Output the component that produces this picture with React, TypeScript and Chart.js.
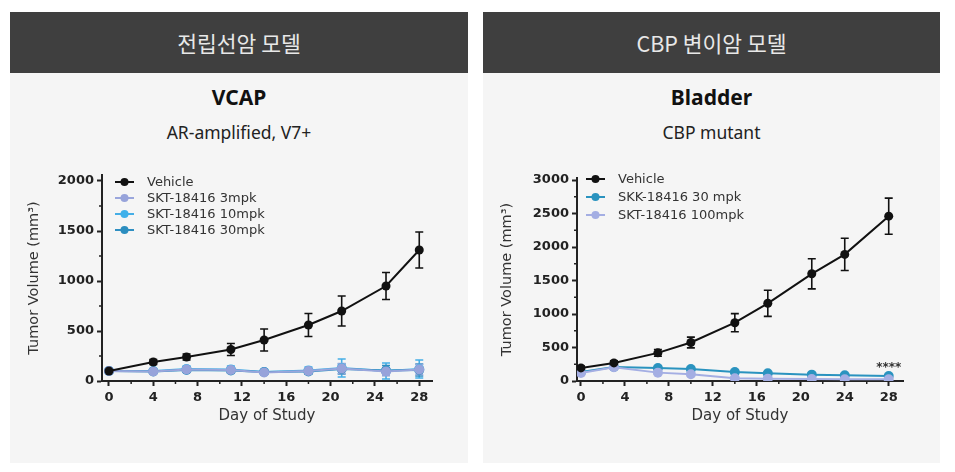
import React, { useEffect, useRef } from "react";
import { Chart, registerables } from "chart.js";
Chart.register(...registerables);

// ---------- Data: VCAP ----------
const vcapDays = [0, 4, 7, 11, 14, 18, 21, 25, 28];
const vcapVehicle = [100, 190, 240, 315, 410, 560, 700, 950, 1310];
const vcapVehicleErr = [10, 25, 30, 60, 110, 115, 150, 135, 180];
const vcap3mpk = [100, 95, 115, 110, 85, 100, 125, 95, 115];
const vcap3mpkErr = [10, 15, 25, 25, 15, 25, 50, 40, 50];
const vcap10mpk = [100, 100, 120, 115, 90, 105, 130, 100, 120];
const vcap10mpkErr = [10, 20, 30, 35, 20, 35, 90, 80, 90];
const vcap30mpk = [100, 95, 110, 105, 90, 95, 120, 105, 110];
const vcap30mpkErr = [10, 15, 20, 25, 15, 25, 50, 50, 60];
const vcapYTicks = [0, 500, 1000, 1500, 2000];
const vcapYMinor = [250, 750, 1250, 1750];

// ---------- Data: Bladder ----------
const bladDays = [0, 3, 7, 10, 14, 17, 21, 24, 28];
const bladVehicle = [195, 270, 420, 575, 870, 1160, 1600, 1890, 2460];
const bladVehicleErr = [30, 30, 50, 80, 135, 195, 225, 240, 270];
const blad30mpk = [135, 210, 195, 180, 135, 115, 95, 85, 75];
const blad30mpkErr = [20, 30, 30, 30, 25, 20, 20, 20, 20];
const blad100mpk = [120, 205, 125, 100, 40, 35, 30, 25, 25];
const blad100mpkErr = [20, 30, 20, 20, 10, 10, 10, 10, 10];
const bladYTicks = [0, 500, 1000, 1500, 2000, 2500, 3000];
const bladYMinor = [250, 750, 1250, 1750, 2250, 2750];
const bladSigDay = 28;
const bladSigValue = 150;
const bladSigText = "****";

const xTicks = [0, 4, 8, 12, 16, 20, 24, 28];
const xMinor = [2, 6, 10, 14, 18, 22, 26];

const AXIS = "#222222";
const TXT = "#333333";
const FONT = "'DejaVu Sans', 'Noto Sans', sans-serif";

type Series = {
  label: string;
  data: number[];
  err: number[];
  color: string;
  pointColor: string;
  radius: number;
  order: number;
};

type ChartCfg = {
  days: number[];
  series: Series[];
  yTicks: number[];
  yMinor: number[];
  yMax: number;
  xMin: number;
  xMax: number;
  padTop: number;
  padRight: number;
  yWidth: number;
  legendDx: number;
  legendDy: number;
  legendGap: number;
  sig?: { day: number; value: number; text: string };
};

function buildChart(canvas: HTMLCanvasElement, cfg: ChartCfg) {
  const errorBars = {
    id: "errorBars",
    beforeDatasetsDraw(chart: any) {
      const ctx = chart.ctx;
      const xs = chart.scales.x;
      const ys = chart.scales.y;
      ctx.save();
      cfg.series
        .map((s, i) => ({ s, i }))
        .sort((a, b) => b.s.order - a.s.order)
        .forEach(({ s }) => {
          ctx.strokeStyle = s.color;
          ctx.lineWidth = 1.6;
          s.data.forEach((v, k) => {
            const e = s.err[k];
            if (!e) return;
            const x = xs.getPixelForValue(cfg.days[k]);
            const y1 = ys.getPixelForValue(v + e);
            const y2 = ys.getPixelForValue(Math.max(0, v - e));
            ctx.beginPath();
            ctx.moveTo(x, y1);
            ctx.lineTo(x, y2);
            ctx.moveTo(x - 4, y1);
            ctx.lineTo(x + 4, y1);
            ctx.moveTo(x - 4, y2);
            ctx.lineTo(x + 4, y2);
            ctx.stroke();
          });
        });
      ctx.restore();
    },
  };

  const extras = {
    id: "extras",
    afterDraw(chart: any) {
      const ctx = chart.ctx;
      const xs = chart.scales.x;
      const ys = chart.scales.y;
      const ca = chart.chartArea;
      ctx.save();
      // minor ticks
      ctx.strokeStyle = AXIS;
      ctx.lineWidth = 1.5;
      cfg.yMinor.forEach((v) => {
        const y = ys.getPixelForValue(v);
        ctx.beginPath();
        ctx.moveTo(ca.left - 3, y);
        ctx.lineTo(ca.left, y);
        ctx.stroke();
      });
      xMinor.forEach((v) => {
        const x = xs.getPixelForValue(v);
        ctx.beginPath();
        ctx.moveTo(x, ca.bottom);
        ctx.lineTo(x, ca.bottom + 3);
        ctx.stroke();
      });
      // legend
      ctx.font = `13px ${FONT}`;
      ctx.textBaseline = "middle";
      ctx.textAlign = "left";
      cfg.series.forEach((s, i) => {
        const y = ca.top + cfg.legendDy + i * cfg.legendGap;
        const x0 = ca.left + cfg.legendDx;
        ctx.strokeStyle = s.color;
        ctx.lineWidth = 2;
        ctx.beginPath();
        ctx.moveTo(x0, y);
        ctx.lineTo(x0 + 19, y);
        ctx.stroke();
        ctx.fillStyle = s.pointColor;
        ctx.beginPath();
        ctx.arc(x0 + 9.5, y, 4, 0, Math.PI * 2);
        ctx.fill();
        ctx.fillStyle = TXT;
        ctx.fillText(s.label, x0 + 32, y + 0.5);
      });
      if (cfg.sig) {
        ctx.font = `bold 12px ${FONT}`;
        ctx.fillStyle = TXT;
        ctx.textAlign = "center";
        ctx.textBaseline = "alphabetic";
        ctx.fillText(
          cfg.sig.text,
          xs.getPixelForValue(cfg.sig.day),
          ys.getPixelForValue(cfg.sig.value)
        );
      }
      ctx.restore();
    },
  };

  const tickFont = { family: FONT, size: 13, weight: "bold" as const };
  const titleFont = { family: FONT, size: 14.5 };

  return new Chart(canvas, {
    type: "line",
    data: {
      datasets: cfg.series.map((s) => ({
        label: s.label,
        data: s.data.map((v, k) => ({ x: cfg.days[k], y: v })),
        borderColor: s.color,
        backgroundColor: s.pointColor,
        pointBackgroundColor: s.pointColor,
        pointBorderColor: s.pointColor,
        pointRadius: s.radius,
        pointBorderWidth: 0,
        borderWidth: 2,
        tension: 0,
        order: s.order,
      })),
    },
    options: {
      animation: false,
      responsive: false,
      maintainAspectRatio: false,
      events: [],
      layout: { padding: { top: cfg.padTop, right: cfg.padRight, left: 0, bottom: 0 } },
      plugins: {
        legend: { display: false },
        tooltip: { enabled: false },
        title: { display: false },
      },
      scales: {
        x: {
          type: "linear",
          min: cfg.xMin,
          max: cfg.xMax,
          afterBuildTicks: (s: any) => {
            s.ticks = xTicks.map((v) => ({ value: v }));
          },
          afterFit: (s: any) => {
            s.height = 69;
          },
          grid: {
            drawOnChartArea: false,
            drawTicks: true,
            tickLength: 5,
            tickWidth: 2,
            tickColor: AXIS,
          },
          border: { display: true, color: AXIS, width: 2 },
          ticks: {
            font: tickFont,
            color: AXIS,
            padding: 4,
            maxRotation: 0,
            autoSkip: false,
            callback: (v: any) => String(v),
          },
          title: {
            display: true,
            text: "Day of Study",
            font: { family: FONT, size: 15 },
            color: TXT,
            padding: { top: 0, bottom: 25 },
          },
        },
        y: {
          type: "linear",
          min: 0,
          max: cfg.yMax,
          afterBuildTicks: (s: any) => {
            s.ticks = cfg.yTicks.map((v) => ({ value: v }));
          },
          afterFit: (s: any) => {
            s.width = cfg.yWidth;
          },
          grid: {
            drawOnChartArea: false,
            drawTicks: true,
            tickLength: 5,
            tickWidth: 2,
            tickColor: AXIS,
          },
          border: { display: true, color: AXIS, width: 2 },
          ticks: {
            font: tickFont,
            color: AXIS,
            padding: 3,
            autoSkip: false,
            callback: (v: any) => String(v),
          },
          title: {
            display: true,
            text: "Tumor Volume (mm³)",
            font: titleFont,
            color: TXT,
            padding: { top: 16, bottom: 0 },
          },
        },
      },
    } as any,
    plugins: [errorBars, extras],
  });
}

function ChartCanvas({ cfg, w, h }: { cfg: ChartCfg; w: number; h: number }) {
  const ref = useRef<HTMLCanvasElement | null>(null);
  useEffect(() => {
    if (!ref.current) return;
    const c = buildChart(ref.current, cfg);
    return () => c.destroy();
  }, []);
  return <canvas ref={ref} width={w} height={h} style={{ width: w, height: h, display: "block" }} />;
}

const vcapCfg: ChartCfg = {
  days: vcapDays,
  series: [
    { label: "Vehicle", data: vcapVehicle, err: vcapVehicleErr, color: "#111111", pointColor: "#111111", radius: 4.5, order: 0 },
    { label: "SKT-18416 3mpk", data: vcap3mpk, err: vcap3mpkErr, color: "#9aa6dc", pointColor: "#97a3da", radius: 5, order: 1 },
    { label: "SKT-18416 10mpk", data: vcap10mpk, err: vcap10mpkErr, color: "#45aee6", pointColor: "#3fb0ea", radius: 5, order: 3 },
    { label: "SKT-18416 30mpk", data: vcap30mpk, err: vcap30mpkErr, color: "#2f8fc2", pointColor: "#2b8dbf", radius: 5, order: 2 },
  ],
  yTicks: vcapYTicks,
  yMinor: vcapYMinor,
  yMax: 2060,
  xMin: -0.63,
  xMax: 29.15,
  padTop: 25,
  padRight: 36,
  yWidth: 92,
  legendDx: 13,
  legendDy: 7,
  legendGap: 16,
};

const bladCfg: ChartCfg = {
  days: bladDays,
  series: [
    { label: "Vehicle", data: bladVehicle, err: bladVehicleErr, color: "#111111", pointColor: "#111111", radius: 4.5, order: 0 },
    { label: "SKK-18416 30 mpk", data: blad30mpk, err: blad30mpkErr, color: "#2a93bf", pointColor: "#2a93bf", radius: 5, order: 2 },
    { label: "SKT-18416 100mpk", data: blad100mpk, err: blad100mpkErr, color: "#a4aee3", pointColor: "#a4aee3", radius: 5, order: 1 },
  ],
  yTicks: bladYTicks,
  yMinor: bladYMinor,
  yMax: 3030,
  xMin: -0.36,
  xMax: 29.3,
  padTop: 28,
  padRight: 37,
  yWidth: 94,
  legendDx: 9,
  legendDy: 1,
  legendGap: 18,
  sig: { day: bladSigDay, value: bladSigValue, text: bladSigText },
};

function Panel({
  left,
  width,
  header,
  title,
  subtitle,
  cfg,
}: {
  left: number;
  width: number;
  header: string;
  title: string;
  subtitle: string;
  cfg: ChartCfg;
}) {
  return (
    <>
      <div
        style={{
          position: "absolute",
          left,
          top: 12,
          width,
          height: 61,
          background: "#3f3f3f",
          color: "#e8e8e8",
          display: "flex",
          alignItems: "center",
          justifyContent: "center",
          fontFamily: "'Noto Sans CJK KR', 'Noto Sans', sans-serif",
          fontSize: 21.5,
        }}
      >
        {header}
      </div>
      <div
        style={{
          position: "absolute",
          left,
          top: 73,
          width,
          height: 390,
          background: "#f5f5f5",
        }}
      />
      <div
        style={{
          position: "absolute",
          left,
          top: 84,
          width,
          height: 26,
          lineHeight: "26px",
          textAlign: "center",
          fontFamily: "'Noto Sans', sans-serif",
          fontWeight: 700,
          fontSize: 21,
          color: "#111",
        }}
      >
        {title}
      </div>
      <div
        style={{
          position: "absolute",
          left,
          top: 120,
          width,
          height: 24,
          lineHeight: "24px",
          textAlign: "center",
          fontFamily: "'Noto Sans', sans-serif",
          fontSize: 17.5,
          color: "#222",
        }}
      >
        {subtitle}
      </div>
      <div style={{ position: "absolute", left, top: 150 }}>
        <ChartCanvas cfg={cfg} w={width} h={300} />
      </div>
    </>
  );
}

export default function App() {
  return (
    <div
      style={{
        position: "fixed",
        left: 0,
        top: 0,
        width: 955,
        height: 472,
        background: "#ffffff",
        overflow: "hidden",
      }}
    >
      <Panel left={10} width={458} header="전립선암 모델" title="VCAP" subtitle="AR-amplified, V7+" cfg={vcapCfg} />
      <Panel left={483} width={457} header="CBP 변이암 모델" title="Bladder" subtitle="CBP mutant" cfg={bladCfg} />
    </div>
  );
}
